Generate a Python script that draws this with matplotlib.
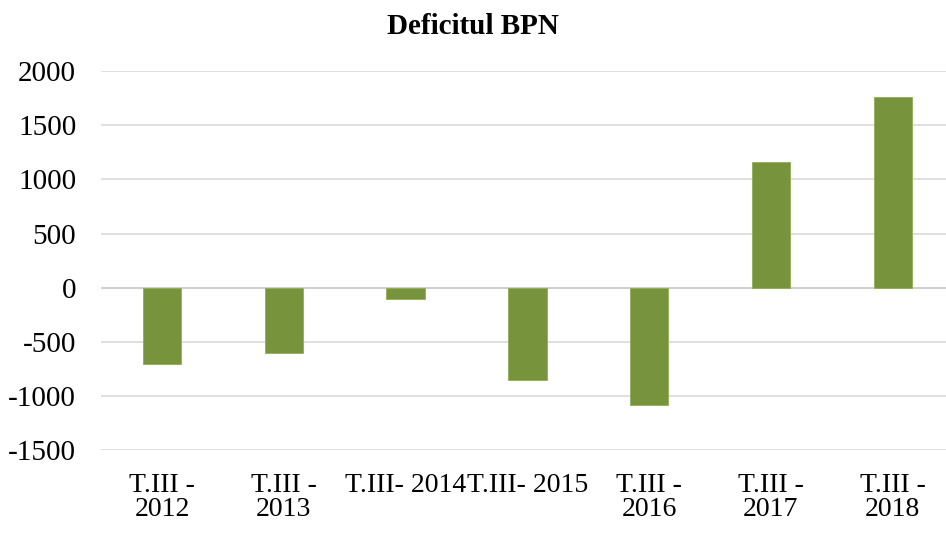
import matplotlib
matplotlib.use("Agg")
import matplotlib.pyplot as plt

categories = ["T.III -\n2012", "T.III -\n2013", "T.III- 2014", "T.III- 2015",
              "T.III -\n2016", "T.III -\n2017", "T.III -\n2018"]
values = [-707, -602, -104, -854, -1082, 1157, 1762]
yticks = [-1500, -1000, -500, 0, 500, 1000, 1500, 2000]

plt.rcParams['font.family'] = ['Liberation Serif', 'DejaVu Serif']

fig = plt.figure(figsize=(9.46, 5.42), dpi=100)
ax = fig.add_axes([0.107, 0.169, 0.901, 0.700])

x = list(range(len(categories)))
ax.bar(x, values, width=0.315, color='#77933c', edgecolor='#8fae55', linewidth=0.6, zorder=3)

ax.set_xlim(-0.5, len(categories) - 0.5)
ax.set_ylim(-1500, 2000)
ax.set_yticks(yticks)
ax.set_yticklabels([str(v) for v in yticks], fontsize=21)
ax.set_xticks(x)
ax.set_xticklabels(categories, fontsize=20, linespacing=0.95, va='top')
ax.tick_params(axis='y', length=0, pad=18)
ax.tick_params(axis='x', length=0, pad=16)

ax.grid(axis='y', color='#d9d9d9', linewidth=1.2, zorder=0)
ax.axhline(0, color='#d0d0d0', linewidth=1.5, zorder=2)
for s in ax.spines.values():
    s.set_visible(False)

fig.text(0.5, 0.952, 'Deficitul BPN', ha='center', va='center', fontsize=21, fontweight='bold')

fig.savefig('out.png', dpi=100)
